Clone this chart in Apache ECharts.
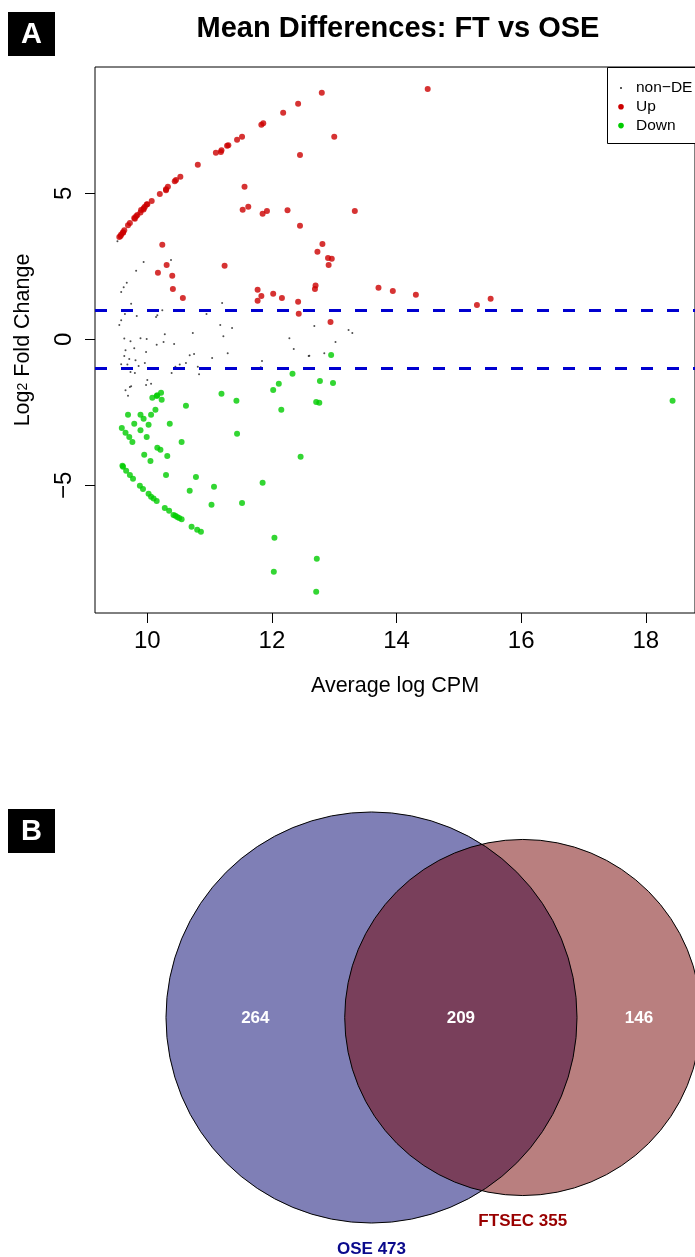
<!DOCTYPE html>
<html>
<head>
<meta charset="utf-8">
<script src="https://cdn.jsdelivr.net/npm/echarts@6/dist/echarts.min.js"></script>
<style>
  html, body { margin: 0; padding: 0; background: #fff; }
  #chart { width: 695px; height: 1257px; }
</style>
</head>
<body>
<div id="chart"></div>
<script>
// MD plot values: [average log CPM, log2 fold change]
let nonDE = [
  [9.52, 3.36], [9.94, 2.65], [10.38, 2.72], [9.82, 2.35], [9.67, 1.94], [9.62, 1.79],
  [9.58, 1.62], [9.74, 1.22], [10.24, 1.00], [9.64, 0.87], [9.83, 0.80], [10.14, 0.77],
  [10.16, 0.83], [9.58, 0.66], [9.55, 0.49], [10.95, 0.87], [11.20, 1.25], [11.17, 0.49],
  [11.36, 0.39], [11.22, 0.11], [10.73, 0.22], [10.28, 0.18], [10.26, -0.09], [10.43, -0.16],
  [10.15, -0.18], [9.89, 0.04], [9.99, 0.01], [9.73, -0.06], [9.63, 0.03], [9.79, -0.30],
  [9.65, -0.37], [9.98, -0.43], [9.63, -0.57], [9.71, -0.67], [9.81, -0.71], [9.58, -0.85],
  [9.68, -0.86], [9.86, -0.91], [9.96, -0.81], [9.73, -1.12], [9.80, -1.15], [10.45, -0.94],
  [10.52, -0.86], [10.62, -0.81], [10.68, -0.54], [10.75, -0.50], [11.04, -0.64], [11.29, -0.47],
  [10.39, -1.15], [10.83, -1.19], [10.81, -0.94], [11.84, -0.74], [11.82, -0.95], [12.28, 0.04],
  [12.35, -0.33], [12.59, -0.57], [12.60, -0.56], [12.68, 0.46], [12.84, -0.47], [13.02, -0.09],
  [13.23, 0.32], [13.29, 0.22], [10.00, -1.39], [10.06, -1.52], [9.98, -1.56], [9.74, -1.60],
  [9.72, -1.63], [9.65, -1.74], [9.69, -1.93]
]

let up = [
  [9.55, 3.51], [9.57, 3.54], [9.58, 3.59], [9.61, 3.65], [9.61, 3.67], [9.63, 3.74],
  [9.69, 3.91], [9.72, 3.99], [9.79, 4.16], [9.80, 4.13], [9.82, 4.22], [9.84, 4.26],
  [9.89, 4.35], [9.90, 4.43], [9.94, 4.45], [9.94, 4.49], [9.96, 4.54], [9.99, 4.62],
  [10.00, 4.63], [10.07, 4.74], [10.20, 4.98], [10.30, 5.11], [10.30, 5.14], [10.33, 5.23],
  [10.44, 5.42], [10.46, 5.46], [10.53, 5.57], [10.81, 5.98], [11.10, 6.39], [11.18, 6.42],
  [11.19, 6.48], [11.28, 6.63], [11.30, 6.65], [11.44, 6.84], [11.52, 6.94], [11.83, 7.35],
  [11.86, 7.40], [12.18, 7.76], [12.42, 8.07], [12.80, 8.45], [14.50, 8.58], [13.00, 6.94],
  [12.45, 6.32], [11.56, 5.23], [11.62, 4.54], [11.53, 4.44], [11.92, 4.40], [11.85, 4.30],
  [12.25, 4.42], [13.33, 4.40], [12.45, 3.89], [10.24, 3.24], [12.81, 3.27], [12.73, 3.00],
  [12.90, 2.79], [12.96, 2.76], [12.91, 2.55], [10.31, 2.55], [10.17, 2.28], [10.40, 2.18],
  [10.41, 1.73], [10.57, 1.42], [11.24, 2.52], [12.70, 1.85], [12.69, 1.73], [13.71, 1.77],
  [13.94, 1.66], [14.31, 1.53], [15.29, 1.18], [15.51, 1.39], [12.42, 1.29], [12.43, 0.88],
  [12.94, 0.60], [11.77, 1.70], [11.77, 1.32], [11.83, 1.49], [12.02, 1.56], [12.16, 1.42]
]

let down = [
  [12.95, -0.53], [12.33, -1.18], [12.77, -1.42], [12.98, -1.49], [12.11, -1.52], [12.02, -1.73],
  [12.71, -2.14], [12.76, -2.17], [12.15, -2.41], [11.19, -1.86], [11.43, -2.10], [10.62, -2.27],
  [10.22, -1.83], [10.16, -1.91], [10.15, -1.94], [10.08, -2.00], [10.23, -2.07], [10.13, -2.41],
  [9.69, -2.58], [9.89, -2.58], [10.06, -2.58], [9.94, -2.72], [9.79, -2.89], [10.02, -2.92],
  [10.36, -2.89], [9.59, -3.03], [9.89, -3.11], [9.65, -3.20], [11.44, -3.23], [9.71, -3.34],
  [9.99, -3.34], [9.76, -3.51], [10.55, -3.51], [10.16, -3.71], [10.21, -3.78], [10.32, -3.99],
  [9.95, -3.95], [10.05, -4.16], [12.46, -4.02], [9.60, -4.33], [9.61, -4.36], [9.66, -4.50],
  [9.72, -4.64], [10.30, -4.64], [9.77, -4.77], [10.78, -4.71], [9.88, -5.01], [9.93, -5.12],
  [10.68, -5.18], [11.07, -5.05], [11.85, -4.91], [10.02, -5.29], [10.06, -5.39], [10.10, -5.45],
  [10.15, -5.53], [11.03, -5.66], [11.52, -5.60], [10.28, -5.77], [10.35, -5.87], [10.42, -6.01],
  [10.45, -6.04], [10.48, -6.08], [10.51, -6.12], [10.55, -6.16], [10.71, -6.42], [10.80, -6.52],
  [10.86, -6.59], [12.04, -6.79], [12.72, -7.51], [12.03, -7.96], [12.71, -8.64], [18.43, -2.10]
]

let xTicks = [10, 12, 14, 16, 18]
let yTicks = [-5, 0, 5]
let foldLines = [1, -1]
let legendNames = ['non\u2212DE', 'Up', 'Down']

// Venn values
let setNames = ['OSE', 'FTSEC']
let setSizes = [473, 355]
let overlapSize = 209

let font = '"Liberation Sans", Arial, sans-serif'
let colUp = '#cc0000'
let colDown = '#00cc00'
let colNon = '#222222'

// area-proportional circles: radius from set size, distance solved from overlap
function lensArea(r1, r2, d) {
  if (d >= r1 + r2) return 0
  if (d <= Math.abs(r1 - r2)) return Math.PI * Math.min(r1, r2) ** 2
  let a1 = r1 * r1 * Math.acos((d * d + r1 * r1 - r2 * r2) / (2 * d * r1))
  let a2 = r2 * r2 * Math.acos((d * d + r2 * r2 - r1 * r1) / (2 * d * r2))
  let k = 0.5 * Math.sqrt((-d + r1 + r2) * (d + r1 - r2) * (d - r1 + r2) * (d + r1 + r2))
  return a1 + a2 - k
}

let r1 = Math.sqrt(setSizes[0] / Math.PI)
let r2 = Math.sqrt(setSizes[1] / Math.PI)
let lo = Math.abs(r1 - r2)
let hi = r1 + r2
for (let i = 0; i < 60; i++) {
  let mid = (lo + hi) / 2
  if (lensArea(r1, r2, mid) > overlapSize) lo = mid
  else hi = mid
}
let dist = (lo + hi) / 2

let circles = [
  { value: [0, 0, r1], itemStyle: { color: 'rgba(0, 0, 109, 0.5)' } },
  { value: [dist, 0, r2], itemStyle: { color: 'rgba(115, 0, 0, 0.5)' } }
]
let counts = [
  [(-r1 + dist - r2) / 2, 0, setSizes[0] - overlapSize],
  [(dist - r2 + r1) / 2, 0, overlapSize],
  [(r1 + dist + r2) / 2, 0, setSizes[1] - overlapSize]
]
let setLabels = [
  [0, -r1, setNames[0] + ' ' + setSizes[0], '#0a0a8c'],
  [dist, -r2, setNames[1] + ' ' + setSizes[1], '#990000']
]

// pixel frame of the venn panel
let vennScale = 16.75
let vennX = 371.5
let vennY = 1017.5
let vennTop = 780
let vennH = 477

let chart = echarts.init(document.getElementById('chart'), null, { renderer: 'canvas' })

let legendItems = []
legendNames.forEach((name, i) => {
  let y = 88 + i * 18.8
  let sz = i === 0 ? 1 : 2.8
  let col = [colNon, colUp, colDown][i]
  legendItems.push({ type: 'circle', shape: { cx: 621, cy: y, r: sz }, style: { fill: col } })
  legendItems.push({
    type: 'text', x: 636, y: y,
    style: { text: name, fill: '#000', font: '15.5px ' + font, verticalAlign: 'middle' }
  })
})

function panelTag(letter, x, y) {
  return [
    { type: 'rect', shape: { x: x, y: y, width: 47, height: 44 }, style: { fill: '#000' } },
    {
      type: 'text', x: x + 23.5, y: y + 23,
      style: { text: letter, fill: '#fff', font: 'bold 29px ' + font, align: 'center', verticalAlign: 'middle' }
    }
  ]
}

let option = {
  animation: false,
  backgroundColor: '#fff',
  grid: [
    { left: 95, top: 67, width: 605, height: 546, show: true, borderColor: '#000', borderWidth: 1, backgroundColor: 'transparent' },
    { left: 0, top: vennTop, width: 695, height: vennH }
  ],
  xAxis: [
    {
      type: 'value', min: 9.16, max: 18.79,
      splitLine: { show: false },
      axisLine: { show: false, onZero: false },
      axisTick: { show: true, customValues: xTicks, length: 10, lineStyle: { color: '#000' } },
      axisLabel: { customValues: xTicks, fontSize: 24, fontFamily: font, color: '#000', margin: 16 },
      name: 'Average log CPM', nameLocation: 'middle', nameGap: 62,
      nameTextStyle: { fontSize: 21.5, fontFamily: font, color: '#000' }
    },
    {
      gridIndex: 1, type: 'value', show: false,
      min: -vennX / vennScale, max: (695 - vennX) / vennScale
    }
  ],
  yAxis: [
    {
      type: 'value', min: -9.37, max: 9.33,
      splitLine: { show: false },
      axisLine: { show: false, onZero: false },
      axisTick: { show: true, customValues: yTicks, length: 10, lineStyle: { color: '#000' } },
      axisLabel: {
        customValues: yTicks, rotate: 90, fontSize: 24, fontFamily: font, color: '#000', margin: 19,
        formatter: (v) => (v < 0 ? '\u2212' + Math.abs(v) : String(v))
      },
      name: '{m|Log}{s|2}{m| Fold Change}', nameLocation: 'middle', nameGap: 56, nameRotate: 90,
      nameTextStyle: {
        fontFamily: font, color: '#000',
        rich: {
          m: { fontSize: 21.5, fontFamily: font, color: '#000', lineHeight: 32 },
          s: { fontSize: 14, fontFamily: font, color: '#000', lineHeight: 14 }
        }
      }
    },
    {
      gridIndex: 1, type: 'value', show: false,
      min: -(vennTop + vennH - vennY) / vennScale, max: (vennY - vennTop) / vennScale
    }
  ],
  series: [
    {
      name: 'non-DE', type: 'scatter', data: nonDE, symbolSize: 2,
      itemStyle: { color: colNon }, silent: true
    },
    {
      name: 'Up', type: 'scatter', data: up, symbolSize: 6,
      itemStyle: { color: colUp }, silent: true
    },
    {
      name: 'Down', type: 'scatter', data: down, symbolSize: 6,
      itemStyle: { color: colDown }, silent: true,
      markLine: {
        silent: true, symbol: 'none', label: { show: false },
        lineStyle: { color: '#0000d0', width: 3, type: [12, 14], cap: 'butt' },
        data: foldLines.map((v) => ({ yAxis: v }))
      }
    },
    {
      type: 'custom', xAxisIndex: 1, yAxisIndex: 1, data: circles, silent: true,
      renderItem: (params, api) => {
        let c = api.coord([api.value(0), api.value(1)])
        let r = api.size([api.value(2), 0])[0]
        return { type: 'circle', shape: { cx: c[0], cy: c[1], r: r }, style: { fill: api.visual('color') } }
      }
    },
    {
      type: 'custom', xAxisIndex: 1, yAxisIndex: 1, data: circles, silent: true,
      renderItem: (params, api) => {
        let c = api.coord([api.value(0), api.value(1)])
        let r = api.size([api.value(2), 0])[0]
        return { type: 'circle', shape: { cx: c[0], cy: c[1], r: r }, style: { fill: 'none', stroke: '#000', lineWidth: 1 } }
      }
    },
    {
      type: 'custom', xAxisIndex: 1, yAxisIndex: 1, data: counts, silent: true,
      renderItem: (params, api) => {
        let c = api.coord([api.value(0), api.value(1)])
        return {
          type: 'text', x: c[0], y: c[1] + 1,
          style: { text: String(api.value(2)), fill: '#fff', font: 'bold 17px ' + font, align: 'center', verticalAlign: 'middle' }
        }
      }
    },
    {
      type: 'custom', xAxisIndex: 1, yAxisIndex: 1, data: setLabels, silent: true,
      renderItem: (params, api) => {
        let c = api.coord([api.value(0), api.value(1)])
        let item = setLabels[params.dataIndex]
        return {
          type: 'text', x: c[0], y: c[1] + 26,
          style: { text: item[2], fill: item[3], font: 'bold 17px ' + font, align: 'center', verticalAlign: 'middle' }
        }
      }
    }
  ],
  graphic: [
    ...panelTag('A', 8, 12),
    ...panelTag('B', 8, 809),
    {
      type: 'text', x: 398, y: 29,
      style: { text: 'Mean Differences: FT vs OSE', fill: '#000', font: 'bold 29px ' + font, align: 'center', verticalAlign: 'middle' }
    },
    { type: 'rect', shape: { x: 607.5, y: 67.5, width: 100, height: 76 }, style: { fill: '#fff', stroke: '#000', lineWidth: 1 } },
    ...legendItems
  ]
}

chart.setOption(option)
</script>
</body>
</html>
